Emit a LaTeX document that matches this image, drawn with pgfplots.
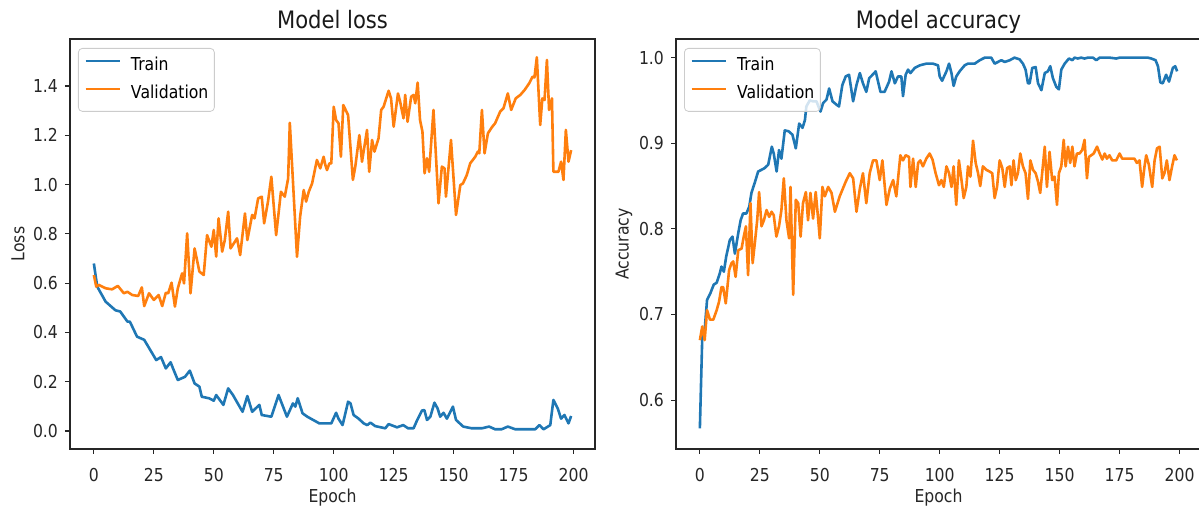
\documentclass[border=0pt]{standalone}
\usepackage{fontspec}
\setmainfont{DejaVu Sans}[FakeStretch=0.88]
\usepackage{pgfplots}
\pgfplotsset{compat=1.18}
\definecolor{mplblue}{HTML}{1F77B4}
\definecolor{mplorange}{HTML}{FF7F0E}
\pgfplotsset{
  mpl/.style={
    scale only axis, width=262.5pt, height=205pt,
    xmin=-9.95, xmax=208.95,
    xtick={0,25,...,200},
    tick align=outside, xtick pos=left, ytick pos=left,
    major tick length=2.5pt,
    every tick/.style={black!85, line width=0.6pt},
    axis line style={black!85, line width=0.6pt},
    /pgf/number format/assume math mode=true,
    tick label style={font=\fontsize{8.9}{10}\selectfont, text=black!85},
    xticklabel style={yshift=-3.5pt},
    every axis title/.style={font=\fontsize{12}{14}\selectfont, text=black!90, at={(axis description cs:0.5,1)}, anchor=base, yshift=5pt},
    every axis x label/.style={at={(axis description cs:0.5,0)}, anchor=base, yshift=-26.8pt, font=\fontsize{8.9}{10}\selectfont, text=black!85},
    every axis y label/.style={at={(axis description cs:0,0.5)}, xshift=-26pt, rotate=90, anchor=center, font=\fontsize{8.9}{10}\selectfont, text=black!85},
    legend style={at={(axis description cs:0,1)}, anchor=north west, xshift=4pt, yshift=-4.5pt,
      draw=black!20, fill=white, fill opacity=0.8, text opacity=1, rounded corners=2pt,
      font=\fontsize{8.9}{10}\selectfont, inner xsep=3pt, inner ysep=4.5pt, row sep=5.5pt,
      nodes={inner sep=0pt, text height=6.5pt, text depth=2pt}, column sep=5pt},
    legend cell align=left,
    legend image code/.code={\draw[#1, line width=1.3pt] (0pt,2.5pt) -- (17pt,2.5pt);},
    every axis plot/.append style={line width=1.3pt, line join=round},
  }
}
\begin{document}
\begin{tikzpicture}
\useasboundingbox (0,0) rectangle (599.5pt,253.5pt);
\begin{axis}[mpl, at={(35pt,29pt)}, anchor=south west,
  ymin=-0.073, ymax=1.591, ytick={0,0.2,...,1.4},
  yticklabel style={/pgf/number format/.cd, fixed, fixed zerofill, precision=1},
  title={Model loss}, xlabel={Epoch}, ylabel={Loss}]
\addplot[mplblue] coordinates {
(0,0.68) (1.4,0.586) (4.9,0.525) (9,0.49) (11,0.485) (14,0.444) (15,0.444) (18,0.383) (21,0.37)
(26,0.288) (28,0.30) (30,0.254) (32,0.279) (33,0.254) (35,0.207) (38,0.22) (40,0.245) (42,0.193)
(44,0.18) (45,0.139) (48,0.133) (50,0.123) (51,0.146) (54,0.106) (56,0.173) (58,0.146) (62,0.078)
(64,0.142) (66,0.078) (69,0.106) (70,0.065) (74,0.058) (77,0.146) (80.5,0.058) (83,0.112) (84,0.099)
(85,0.133) (87,0.072) (89,0.058) (94,0.031) (99,0.031) (101,0.074) (102,0.05) (103.7,0.024) (106,0.119)
(107,0.112) (108.3,0.065) (110.4,0.05) (112.5,0.031) (114,0.024) (115.3,0.034) (117.3,0.02) (121.5,0.011)
(122.9,0.028) (126.4,0.015) (129,0.024) (131,0.011) (133.3,0.011) (134.7,0.042) (136.8,0.083) (137.8,0.085)
(138.9,0.045) (140.3,0.058) (142,0.115) (143.3,0.092) (144.4,0.058) (145.8,0.074) (147.2,0.05) (149.7,0.099)
(151,0.045) (154,0.018) (157.6,0.011) (161.8,0.011) (164.8,0.018) (167.3,0.007) (170,0.007) (172.6,0.018)
(175.7,0.007) (184,0.007) (185.8,0.024) (187.5,0.007) (190.3,0.024) (191.6,0.126) (193.4,0.092) (194.8,0.05)
(196.2,0.065) (197.9,0.031) (199,0.061)};
\addplot[mplorange] coordinates {
(0,0.633) (1,0.586) (2,0.593) (5,0.579) (7.6,0.575) (10,0.589) (12.5,0.559) (14,0.565) (16,0.552)
(18.5,0.548) (20,0.583) (21,0.507) (23,0.559) (25,0.532) (27,0.552) (28.5,0.507) (30,0.561) (31,0.559)
(32.4,0.602) (33.8,0.505) (35,0.579) (36.8,0.64) (37.6,0.599) (38.9,0.802) (40.3,0.559) (42,0.741)
(44,0.647) (45.8,0.633) (47.2,0.795) (49,0.748) (50,0.816) (51,0.708) (52,0.863) (53.5,0.728) (54.6,0.775)
(56,0.89) (57,0.741) (59.7,0.782) (61,0.714) (63,0.883) (64,0.775) (66,0.877) (67,0.863) (68.5,0.944)
(70,0.951) (71,0.843) (72.6,0.931) (74,1.032) (76,0.795) (78,0.971) (79.6,0.951) (81,1.025) (81.7,1.251)
(84.7,0.707) (86,0.87) (87.5,0.978) (88.5,0.931) (89.6,0.971) (91,1.005) (93,1.1) (94.4,1.066) (95.8,1.113)
(96.5,1.08) (97.2,1.059) (98.2,1.086) (99,1.086) (100,1.316) (101,1.262) (102,1.249) (103,1.113) (104,1.323)
(106,1.282) (108,1.019) (109,1.073) (110.7,1.201) (111.8,1.093) (113.9,1.222) (114.8,1.052) (116,1.181)
(117,1.134) (118.7,1.188) (119.8,1.303) (120.8,1.316) (122.9,1.381) (123.9,1.35) (125,1.235) (126.8,1.37)
(127.7,1.337) (129.1,1.269) (129.8,1.364) (130.8,1.255) (132.3,1.357) (133.3,1.364) (134,1.33) (135,1.414)
(136,1.262) (137,1.215) (137.9,1.046) (138.9,1.107) (139.8,1.052) (141.6,1.303) (143.7,0.924) (145.1,1.073)
(146.2,1.066) (146.8,0.951) (148.9,1.181) (151,0.877) (152.8,0.998) (153.9,1.005) (155.5,1.039) (156.9,1.086)
(159,1.113) (160.1,1.134) (160.7,1.127) (161.8,1.303) (162.9,1.127) (164.3,1.208) (165.9,1.232) (167.3,1.249)
(169.4,1.296) (170.8,1.31) (172.6,1.37) (174,1.303) (175.9,1.35) (177.8,1.364) (179.6,1.384) (181.5,1.411)
(182.9,1.438) (183.7,1.435) (184.7,1.517) (186.1,1.242) (187,1.35) (187.9,1.343) (188.9,1.506) (189.8,1.303)
(191,1.35) (191.6,1.052) (193.7,1.052) (194.8,1.093) (195.8,1.019) (196.8,1.222) (197.9,1.093) (199,1.14)};
\legend{Train,Validation}
\end{axis}
\begin{axis}[mpl, at={(338pt,29pt)}, anchor=south west,
  ymin=0.5429, ymax=1.0218, ytick={0.6,0.7,0.8,0.9,1.0},
  yticklabel style={/pgf/number format/.cd, fixed, fixed zerofill, precision=1},
  title={Model accuracy}, xlabel={Epoch}, ylabel={Accuracy}]
\addplot[mplblue] coordinates {
(0,0.567) (1,0.674) (2,0.682) (3,0.717) (4.4,0.725) (5.8,0.735) (7,0.737) (8.3,0.748) (9,0.756) (10,0.75)
(11,0.768) (12.5,0.787) (13.6,0.791) (14.6,0.771) (16,0.795) (17,0.81) (18,0.818) (19.4,0.818) (20.6,0.826)
(21.5,0.842) (23,0.855) (24.3,0.867) (25.7,0.869) (27,0.871) (28.5,0.875) (30,0.896) (30.8,0.888) (32,0.867)
(33,0.892) (34,0.882) (35.4,0.915) (37,0.914) (38.6,0.91) (40,0.894) (41.4,0.923) (42.8,0.918) (43.8,0.927)
(44.4,0.943) (45.8,0.95) (47.2,0.949) (48.6,0.949) (50.3,0.937) (51.4,0.947) (52.8,0.951) (53.9,0.964)
(55.3,0.949) (57,0.945) (58,0.943) (59.4,0.968) (60.8,0.978) (62.2,0.98) (63.9,0.949) (65.3,0.968) (66.7,0.982)
(68,0.97) (69.4,0.96) (70.6,0.976) (72,0.98) (73.3,0.984) (75.3,0.96) (77,0.96) (78.9,0.972) (79.9,0.984)
(81.3,0.97) (82.6,0.978) (84,0.978) (84.7,0.955) (85.8,0.98) (86.8,0.986) (87.8,0.982) (89.6,0.988) (91.7,0.991)
(94.4,0.993) (97.2,0.993) (99.3,0.991) (100,0.978) (101,0.973) (102.8,0.984) (103.9,0.993) (104.9,0.982)
(105.8,0.967) (106.9,0.978) (108.3,0.984) (110.4,0.991) (111.8,0.993) (113.2,0.993) (114.6,0.993) (116.7,0.997)
(118.8,1.0) (121.5,1.0) (122.9,0.993) (124.3,0.995) (125.7,0.997) (127.1,0.995) (129.2,0.997) (131.2,1.0)
(133.3,0.998) (134.7,0.993) (135.8,0.986) (136.8,0.97) (137.5,0.97) (138.6,0.988) (140,0.989) (141,0.97)
(142.4,0.962) (143.8,0.982) (145.1,0.984) (146.1,0.99) (147.2,0.976) (148.6,0.966) (149.7,0.963) (150.7,0.986)
(152.1,0.993) (153.9,0.999) (155.3,0.997) (156.2,1.0) (157.6,0.999) (159,1.0) (160.4,0.999) (161.8,1.0)
(163.9,1.0) (165.3,0.997) (166.7,1.0) (170.8,1.0) (173.6,0.999) (175,1.0) (179.2,1.0) (183.3,1.0) (185.4,1.0)
(186.8,1.0) (188.2,0.999) (190,0.997) (191,0.99) (192,0.971) (193,0.97) (194.4,0.98) (195.6,0.972) (197.2,0.988)
(198.2,0.99) (199,0.984)};
\addplot[mplorange] coordinates {
(0,0.67) (1,0.686) (2,0.67) (3,0.705) (4.2,0.694) (5.6,0.694) (7,0.705) (8,0.715) (9,0.732) (9.7,0.732)
(10.8,0.713) (12.2,0.752) (13.2,0.76) (13.9,0.762) (14.9,0.744) (16,0.775) (17.4,0.777) (18.3,0.791) (19.2,0.803)
(20.1,0.746) (21.1,0.83) (22,0.76) (22.9,0.783) (23.9,0.81) (24.7,0.843) (25.7,0.803) (26.7,0.81) (27.8,0.822)
(28.9,0.814) (29.9,0.82) (30.8,0.816) (31.9,0.791) (33,0.803) (34,0.822) (35,0.859) (36.1,0.81) (37.2,0.789)
(37.8,0.849) (38.9,0.723) (40,0.834) (41,0.83) (42,0.791) (43,0.83) (44.2,0.843) (45.1,0.81) (46.1,0.842)
(47.2,0.812) (48.3,0.843) (49.3,0.812) (50,0.789) (51.1,0.849) (52.1,0.838) (53.5,0.849) (54.9,0.842) (56.3,0.82)
(58.3,0.838) (60.8,0.855) (62.5,0.865) (63.9,0.859) (65.3,0.82) (66.7,0.847) (68,0.865) (69.4,0.83) (70.8,0.865)
(72.2,0.88) (73.6,0.88) (75,0.857) (76.1,0.88) (77.8,0.828) (79.2,0.847) (80.6,0.857) (81.9,0.838) (83.6,0.886)
(84.7,0.88) (85.8,0.886) (87.2,0.884) (87.8,0.849) (88.9,0.882) (90,0.849) (91,0.877) (91.9,0.88) (93,0.873)
(94.4,0.882) (95.8,0.888) (97,0.881) (98.3,0.865) (99.7,0.851) (100.7,0.857) (101.7,0.849) (102.8,0.873)
(103.9,0.865) (104.9,0.849) (105.8,0.873) (106.9,0.828) (108,0.88) (109,0.859) (110,0.836) (111.1,0.849)
(111.8,0.873) (112.8,0.861) (113.9,0.903) (115,0.877) (116,0.865) (116.9,0.85) (118,0.873) (119.4,0.869)
(120.8,0.867) (121.9,0.865) (122.9,0.836) (123.9,0.849) (125,0.88) (126.1,0.871) (127.1,0.849) (128.1,0.871)
(129.2,0.873) (129.9,0.851) (130.8,0.88) (131.7,0.857) (132.6,0.865) (133.6,0.888) (134.7,0.873) (135.8,0.865)
(136.8,0.835) (137.8,0.88) (138.9,0.869) (140,0.865) (141,0.855) (141.9,0.842) (143,0.873) (143.8,0.896)
(144.7,0.849) (145.8,0.89) (146.9,0.857) (147.9,0.861) (148.9,0.828) (149.7,0.865) (150.7,0.873) (151.7,0.904)
(152.5,0.873) (153.5,0.896) (154.4,0.877) (155.3,0.896) (156.2,0.873) (157.2,0.888) (158.3,0.888) (159.4,0.892)
(160.4,0.904) (161.4,0.859) (162.2,0.884) (163.2,0.886) (164.2,0.888) (165.6,0.896) (166.7,0.888) (167.8,0.881)
(168.8,0.888) (169.7,0.882) (170.8,0.886) (171.9,0.88) (173.6,0.88) (175,0.888) (176.1,0.882) (179.2,0.882)
(181.2,0.882) (182.2,0.877) (183.3,0.88) (184.4,0.849) (185.4,0.873) (186.1,0.886) (187.2,0.875) (188.6,0.849)
(189.6,0.88) (190.6,0.894) (191.7,0.896) (192.8,0.859) (193.7,0.865) (194.7,0.88) (195.8,0.857) (196.9,0.873)
(197.9,0.886) (198.9,0.88)};
\legend{Train,Validation}
\end{axis}
\end{tikzpicture}
\end{document}
